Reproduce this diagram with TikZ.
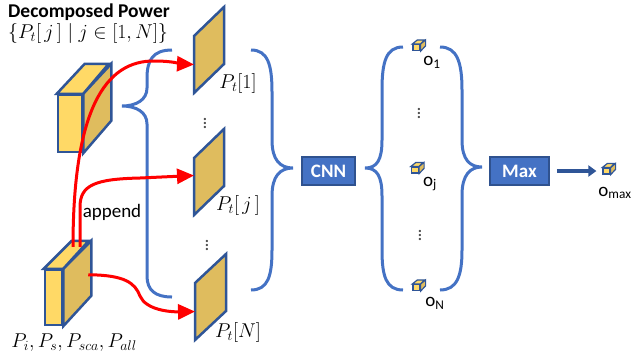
\RequirePackage{fix-cm}
\documentclass[tikz,border=0pt]{standalone}
\usepackage[no-math]{fontspec}
\setmainfont{Carlito}
\usepackage{amsmath}
\usetikzlibrary{arrows.meta, positioning, calc}
\definecolor{cubeLight}{RGB}{255,217,102}
\definecolor{cubeDark}{RGB}{223,188,94}
\definecolor{edgeBlue}{RGB}{47,85,151}
\definecolor{braceBlue}{RGB}{68,114,196}
\definecolor{boxEdge}{RGB}{47,82,143}

\begin{document}
\begin{tikzpicture}[x=1pt, y=-1pt,
    cubefront/.style={draw=edgeBlue, line width=2.5pt, fill=cubeLight, inner sep=0pt},
    cubeface/.style={draw=edgeBlue, line width=2.5pt},
    tinycube/.style={draw=edgeBlue, line width=1.2pt, fill=cubeLight, inner sep=0pt, minimum width=7pt, minimum height=6pt},
    tinyface/.style={draw=edgeBlue, line width=1.2pt},
    slabface/.style={draw=edgeBlue, line width=2.5pt, fill=cubeDark},
    brace/.style={draw=braceBlue, line width=3pt},
    netbox/.style={draw=boxEdge, line width=1.5pt, fill=braceBlue, text=white, inner sep=0pt,
                   minimum height=28pt, font=\fontsize{19}{22}\selectfont\bfseries},
    feed/.style={draw=red, line width=3pt, -{Triangle[length=17pt, width=15pt]}},
    lbl/.style={inner sep=0pt, font=\fontsize{19}{22}\selectfont},
    mathlbl/.style={inner sep=0pt, font=\fontsize{20}{24}\selectfont}]
        \useasboundingbox (0,0) rectangle (636,360);

        % Title and decomposition set
        \node[lbl, font=\fontsize{19.5}{22}\selectfont\bfseries] (title) at (89,12) {Decomposed Power};
        \node[mathlbl] (powset) at (88,33) {$\{P_t[\,j\,]\mid j\in[1,N]\}$};

        % Big cube (decomposed power)
        \node[cubefront, minimum width=24pt, minimum height=57pt] (bigcube) at (70,123.5) {};
        \draw[cubeface, fill=cubeDark] (bigcube.north east) -- ++(28,-30) -- ++(0,57) -- (bigcube.south east) -- cycle;
        \draw[cubeface, fill=cubeLight] (bigcube.north west) -- ++(28,-30) -- ++(24,0) -- (bigcube.north east) -- cycle;

        % Small cube (input powers)
        \node[cubefront, minimum width=17pt, minimum height=55pt] (smallcube) at (53.5,297.5) {};
        \draw[cubeface, fill=cubeDark] (smallcube.north east) -- ++(28,-28) -- ++(0,55) -- (smallcube.south east) -- cycle;
        \draw[cubeface, fill=cubeLight] (smallcube.north west) -- ++(28,-28) -- ++(17,0) -- (smallcube.north east) -- cycle;
        \node[mathlbl] (inputs) at (74,343) {$P_i,P_s,P_{sca},P_{all}$};

        % Slabs P_t[1], P_t[j], P_t[N] (left edge centres)
        \coordinate (slab1) at (194,64.5);
        \coordinate (slabj) at (194,186.5);
        \coordinate (slabN) at (195,311.5);
        \draw[slabface] ($(slab1)+(0,-28.5)$) -- ++(30,-29) -- ++(0,57) -- ++(-30,29) -- cycle;
        \draw[slabface] ($(slabj)+(0,-28.5)$) -- ++(30,-29) -- ++(0,57) -- ++(-30,29) -- cycle;
        \draw[slabface] ($(slabN)+(0,-28.5)$) -- ++(31,-29) -- ++(0,57) -- ++(-31,29) -- cycle;
        \node[mathlbl] (lab1) at (238,83) {$P_t[1]$};
        \node[mathlbl] (labj) at (238,205) {$P_t[\,j\,]$};
        \node[mathlbl] (labN) at (238,332) {$P_t[N]$};
        \node[lbl, text=black!70] (dots1) at (205,120) {$\vdots$};
        \node[lbl, text=black!70] (dots2) at (207,242) {$\vdots$};

        % Braces
        \draw[brace] (172,50) .. controls (153,50) and (147,60) .. (147,78) -- (147,88)
            .. controls (147,100) and (136,106) .. (122,106) .. controls (136,106) and (147,112) .. (147,124)
            -- (147,276) .. controls (147,290) and (155,297) .. (172,297);
        \draw[brace] (251,50) .. controls (268,50) and (272,65) .. (272,92) -- (272,140)
            .. controls (272,160) and (280,168) .. (293,168) .. controls (280,168) and (272,176) .. (272,196)
            -- (272,250) .. controls (272,276) and (268,290) .. (251,290);
        \draw[brace] (403,47) .. controls (386,47) and (382,62) .. (382,90) -- (382,140)
            .. controls (382,160) and (377,168) .. (365,168) .. controls (377,168) and (382,176) .. (382,196)
            -- (382,250) .. controls (382,276) and (386,290) .. (403,290);
        \draw[brace] (440,47) .. controls (457,47) and (462,62) .. (462,90) -- (462,140)
            .. controls (462,160) and (470,167) .. (482,167) .. controls (470,167) and (462,175) .. (462,195)
            -- (462,250) .. controls (462,276) and (457,290) .. (440,290);

        % Append arrows
        \coordinate (fromA) at ($(smallcube.north)+(19.5,-22)$);
        \coordinate (fromB) at ($(smallcube.north)+(26.5,-22)$);
        \coordinate (fromC) at ($(smallcube.north east)+(25,6)$);
        \draw[feed] (fromA) .. controls (73,110) and (105,60) .. (155,61) .. controls (172,61) and (183,64) .. (slab1);
        \draw[feed] (fromB) -- (80,207) .. controls (80,185) and (95,179) .. (140,178) -- ($(slabj)+(0,-11)$);
        \draw[feed] (fromC) .. controls (125,275) and (135,283) .. (140,296) .. controls (146,310) and (170,312) .. (slabN);
        \node[lbl] (append) at (112,212) {append};

        % CNN
        \node[netbox, minimum width=53pt] (cnn) at (328.5,171) {CNN};

        % Outputs o_1 ... o_N
        \node[tinycube] (o1) at (416.5,47.5) {};
        \node[tinycube] (oj) at (415,170) {};
        \node[tinycube] (oN) at (416.5,287.5) {};
        \foreach \c in {o1, oj, oN} {
            \draw[tinyface, fill=cubeDark] (\c.north east) -- ++(5,-4) -- ++(0,6) -- (\c.south east) -- cycle;
            \draw[tinyface, fill=cubeLight] (\c.north west) -- ++(5,-4) -- ++(7,0) -- (\c.north east) -- cycle;
        }
        \node[lbl] (lo1) at (432,62) {o$_\text{1}$};
        \node[lbl] (loj) at (430,184) {o$_\text{j}$};
        \node[lbl] (loN) at (435,303) {o$_\text{N}$};
        \node[lbl, text=black!70] (dots3) at (419,110) {$\vdots$};
        \node[lbl, text=black!70] (dots4) at (420,232) {$\vdots$};

        % Max and final output
        \node[netbox, minimum width=59pt] (max) at (519.5,171) {Max};
        \node[tinycube] (omax) at (606.5,171) {};
        \draw[tinyface, fill=cubeDark] (omax.north east) -- ++(5,-4) -- ++(0,6) -- (omax.south east) -- cycle;
        \draw[tinyface, fill=cubeLight] (omax.north west) -- ++(5,-4) -- ++(7,0) -- (omax.north east) -- cycle;
        \node[lbl] (lomax) at (615,193) {o$_\text{max}$};
        \draw[edgeBlue, line width=4pt, -{Triangle[length=8pt, width=11pt]}, shorten <=7pt, shorten >=6pt] (max) -- (omax);
    \end{tikzpicture}
\end{document}
